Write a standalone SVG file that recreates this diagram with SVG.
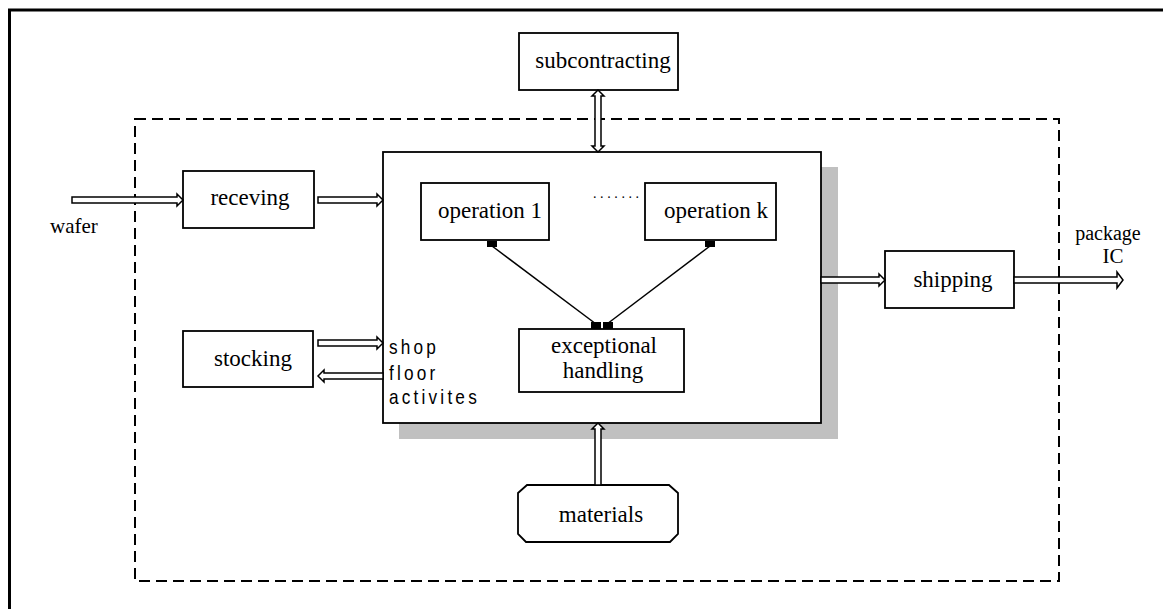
<svg xmlns="http://www.w3.org/2000/svg" width="1163" height="609" viewBox="0 0 1163 609">
<style>
.box{fill:#fff;stroke:#000;stroke-width:1.8}
.lbl{font-family:"Liberation Serif","Times New Roman",serif;font-size:23px;fill:#000;text-anchor:middle}
.ext{font-family:"Liberation Serif","Times New Roman",serif;font-size:20px;fill:#000}
.sf{font-family:"Liberation Sans",Arial,sans-serif;font-size:21px;fill:#000;letter-spacing:3.9px}
.harrow{fill:#fff;stroke:#000;stroke-width:1.5;stroke-linejoin:miter}
.line{stroke:#000;stroke-width:1.5;fill:none}
.cap{fill:#000}
</style>
<rect width="1163" height="609" fill="#fff"/>
<g id="frame">
<path d="M9.5,609 V10 H1163" fill="none" stroke="#000" stroke-width="3"/>
<rect x="135" y="119" width="924" height="462" fill="none" stroke="#000" stroke-width="2" stroke-dasharray="11 6"/>
</g>
<g id="shop-floor">
<rect x="399" y="167" width="439" height="272" fill="#c0c0c0"/>
<rect class="box" x="383" y="152" width="438" height="271"/>
<text class="sf" transform="translate(389,354) scale(0.82,1)">shop</text>
<text class="sf" transform="translate(389,380) scale(0.82,1)">floor</text>
<text class="sf" transform="translate(389,404) scale(0.82,1)">activites</text>
</g>
<g id="subcontracting">
<rect class="box" x="519" y="33" width="159" height="57"/>
<text class="lbl" x="603" y="68">subcontracting</text>
</g>
<g id="receving">
<rect class="box" x="183" y="171" width="131" height="57"/>
<text class="lbl" x="250" y="205">receving</text>
</g>
<g id="stocking">
<rect class="box" x="183" y="331" width="130" height="56"/>
<text class="lbl" x="253" y="366">stocking</text>
</g>
<g id="operation-1">
<rect class="box" x="421" y="183" width="128" height="57"/>
<text class="lbl" x="490" y="218">operation 1</text>
</g>
<g id="operation-k">
<rect class="box" x="645" y="183" width="131" height="57"/>
<text class="lbl" x="716" y="218">operation k</text>
</g>
<g id="dots">
<text x="593" y="198" style="font-family:'Liberation Serif',serif;font-size:14px;letter-spacing:3.6px">.......</text>
</g>
<g id="exceptional-handling">
<rect class="box" x="519" y="329" width="165" height="63"/>
<text class="lbl" x="604" y="353">exceptional</text>
<text class="lbl" x="603" y="378">handling</text>
</g>
<g id="shipping">
<rect class="box" x="885" y="251" width="129" height="57"/>
<text class="lbl" x="953" y="287">shipping</text>
</g>
<g id="materials">
<path class="box" d="M527,485 H669 L678,493 V534 L670,542 H526 L518,534 V493 Z"/>
<text class="lbl" x="601" y="522">materials</text>
</g>
<g id="labels">
<text class="ext" x="50" y="233" style="font-size:21px">wafer</text>
<text class="ext" x="1108" y="240" text-anchor="middle">package</text>
<text class="ext" x="1113" y="263" text-anchor="middle" style="font-size:21px">IC</text>
</g>
<g id="connectors">
<path class="harrow" d="M72,197 H177 V194 L183,200 L177,206 V203 H72 Z"/>
<path class="harrow" d="M318,197 H377 V194 L383,200 L377,206 V203 H318 Z"/>
<path class="harrow" d="M318,340 H377 V337 L383,343 L377,349 V346 H318 Z"/>
<path class="harrow" d="M383,373 H324 V370 L318,376 L324,382 V379 H383 Z"/>
<path class="harrow" d="M821,277 H879 V274 L885,280 L879,286 V283 H821 Z"/>
<path class="harrow" d="M1014,277 H1117 V272 L1123,280 L1117,288 V283 H1014 Z"/>
<path class="harrow" d="M595,485 V429 H592 L598,423 L604,429 H601 V485 Z"/>
<path class="harrow" d="M595,96 H592 L598,90 L604,96 H601 V146 H604 L598,152 L592,146 H595 Z"/>
<line class="line" x1="492" y1="246" x2="596" y2="324"/>
<line class="line" x1="710" y1="246" x2="607" y2="324"/>
<rect class="cap" x="487" y="241" width="10" height="6"/>
<rect class="cap" x="705" y="241" width="10" height="6"/>
<rect class="cap" x="591" y="322" width="10" height="7"/>
<rect class="cap" x="603" y="322" width="10" height="7"/>
</g>
</svg>
